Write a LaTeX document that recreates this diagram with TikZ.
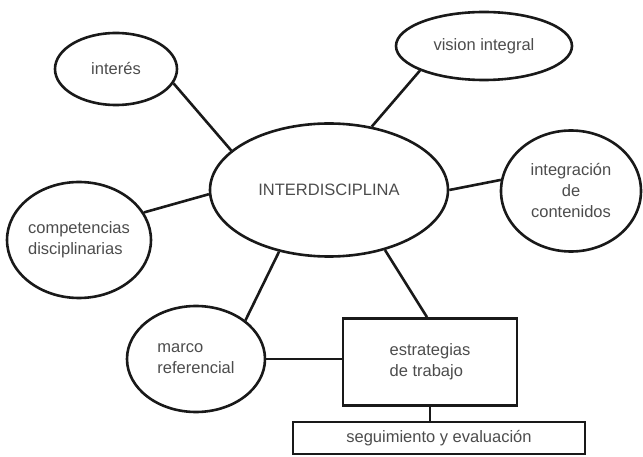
\documentclass[tikz,border=0pt]{standalone}
\usepackage{fontspec}
\setmainfont{Liberation Sans}
\usepackage{tikz}
\usetikzlibrary{shapes.geometric,positioning,calc}

\begin{document}
\begin{tikzpicture}[x=1pt, y=-1pt,
		idea/.style={draw=black!90, line width=2.6pt, ellipse, inner sep=0pt,
				font=\fontsize{16.5}{21}\selectfont, text=black!70, align=center},
		caja/.style={draw=black!90, line width=2.6pt, rectangle, inner sep=0pt,
				font=\fontsize{16.5}{21}\selectfont, text=black!70, align=left},
		wire/.style={draw=black!90, line width=2.6pt}]

		\useasboundingbox (0,0) rectangle (643,457);

		% ── central idea ──
		\node[idea, minimum width=238pt, minimum height=133pt] (centro) at (329,190) {INTERDISCIPLINA};

		% ── surrounding ideas ──
		\node[idea, minimum width=122pt, minimum height=72pt] (interes) at (116,69) {interés};
		\node[idea, minimum width=176pt, minimum height=68pt] (vision) at (484,46) {vision integral};
		\node[idea, minimum width=140pt, minimum height=121pt] (integracion) at (571,191) {integración\\de\\contenidos};
		\node[idea, minimum width=139pt, minimum height=116pt, align=left] (competencias) at (79,240) {competencias\\disciplinarias};
		\node[idea, minimum width=138pt, minimum height=106pt, align=left] (marco) at (196,359) {marco\\referencial};

		% ── boxes ──
		\node[caja, minimum width=174pt, minimum height=87pt] (estrategias) at (430,362) {estrategias\\de trabajo};
		\node[caja, minimum width=292pt, minimum height=32pt] (seguimiento) at (439,438) {seguimiento y evaluación};

		% ── wires from the centre ──
		\draw[wire] (interes.-14) -- (centro.158);
		\draw[wire] (vision.-159) -- (centro.56);
		\draw[wire] (centro.0) -- (integracion.171);
		\draw[wire] (competencias.23) -- (centro.-178);
		\draw[wire] (marco.38) -- (centro.-129);
		\draw[wire] (centro.-47) -- ($(estrategias.north)+(-3,0)$);

		% ── wires between boxes ──
		\draw[wire] (marco.east) -- (marco.east -| estrategias.west);
		\draw[wire] (estrategias.south) -- (estrategias.south |- seguimiento.north);

	\end{tikzpicture}
\end{document}
